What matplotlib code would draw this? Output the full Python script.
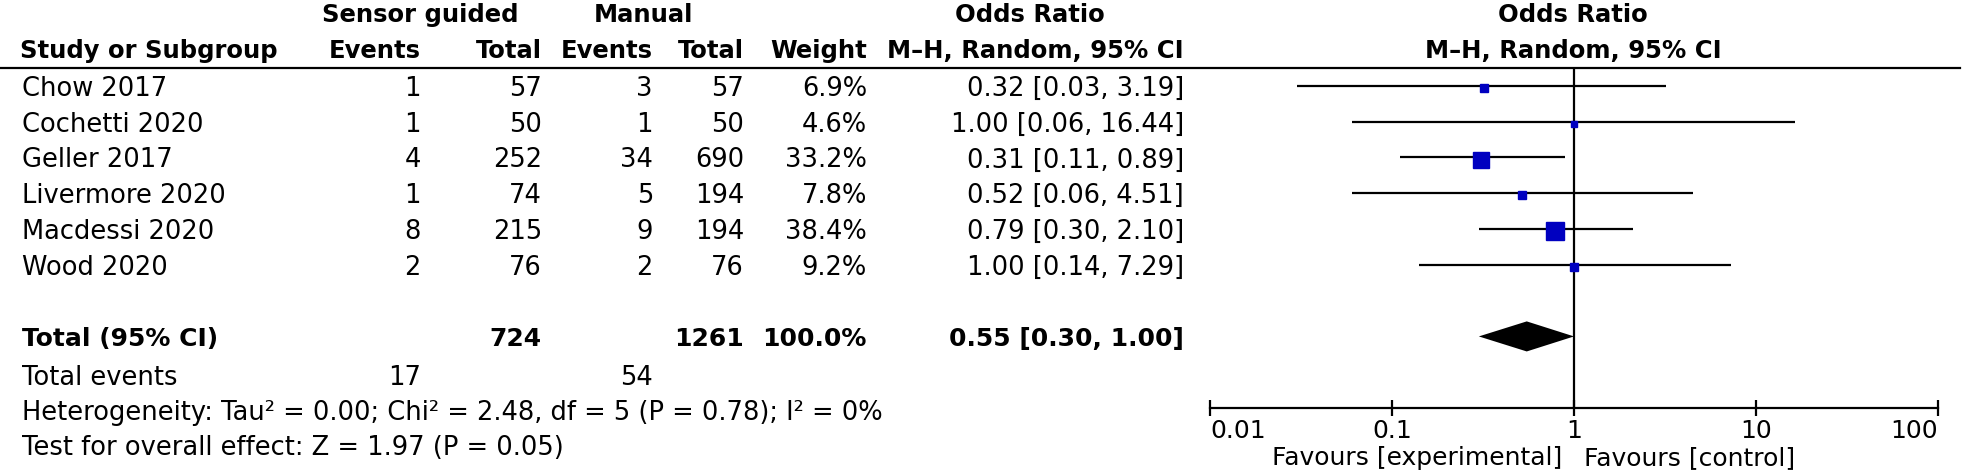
import matplotlib
matplotlib.use("Agg")
import matplotlib.pyplot as plt
import numpy as np

studies = ["Chow 2017", "Cochetti 2020", "Geller 2017", "Livermore 2020", "Macdessi 2020", "Wood 2020"]
sg_events = [1, 1, 4, 1, 8, 2]
sg_total = [57, 50, 252, 74, 215, 76]
man_events = [3, 1, 34, 5, 9, 2]
man_total = [57, 50, 690, 194, 194, 76]
weight = [6.9, 4.6, 33.2, 7.8, 38.4, 9.2]
odds = [0.32, 1.00, 0.31, 0.52, 0.79, 1.00]
ci_low = [0.03, 0.06, 0.11, 0.06, 0.30, 0.14]
ci_high = [3.19, 16.44, 0.89, 4.51, 2.10, 7.29]

tot_sg, tot_man = 724, 1261
tot_weight = 100.0
pooled, pooled_low, pooled_high = 0.55, 0.30, 1.00
ev_sg, ev_man = 17, 54
heterogeneity = "Heterogeneity: Tau\u00b2 = 0.00; Chi\u00b2 = 2.48, df = 5 (P = 0.78); I\u00b2 = 0%"
overall = "Test for overall effect: Z = 1.97 (P = 0.05)"
tick_vals = [0.01, 0.1, 1, 10, 100]
tick_labels = ["0.01", "0.1", "1", "10", "100"]

plt.rcParams['font.family'] = ['DejaVu Sans']
fs = 18.5      # body text
fsb = 17.5     # bold headers
W, H = 1965, 476
fig = plt.figure(figsize=(W / 100, H / 100), dpi=100)

# full-figure axes in pixel units for the table part
tab = fig.add_axes([0, 0, 1, 1])
tab.set_xlim(0, W)
tab.set_ylim(H, 0)
tab.axis("off")

top, bottom = 68, 408
row_h = (bottom - top) / 9.5
def row_y(i):
    return top + (i + 0.5) * row_h + 3

# header
tab.plot([0, 1960], [top, top], color="black", lw=1.6)
h1, h2 = 15, 51
bold = dict(fontsize=fsb, fontweight="bold", va="center")
tab.text(420, h1, "Sensor guided", ha="center", **bold)
tab.text(643, h1, "Manual", ha="center", **bold)
tab.text(1030, h1, "Odds Ratio", ha="center", **bold)
tab.text(1573, h1, "Odds Ratio", ha="center", **bold)
tab.text(20, h2, "Study or Subgroup", ha="left", **bold)
cols = [421, 542, 653, 744, 867, 1184]
for x, lab in zip(cols, ["Events", "Total", "Events", "Total", "Weight", "M\u2013H, Random, 95% CI"]):
    tab.text(x, h2, lab, ha="right", **bold)
tab.text(1573, h2, "M\u2013H, Random, 95% CI", ha="center", **bold)

norm = dict(fontsize=fs, va="center")
for i, name in enumerate(studies):
    y = row_y(i)
    tab.text(22, y, name, ha="left", **norm)
    vals = [str(sg_events[i]), str(sg_total[i]), str(man_events[i]), str(man_total[i]),
            f"{weight[i]:.1f}%", f"{odds[i]:.2f} [{ci_low[i]:.2f}, {ci_high[i]:.2f}]"]
    for x, v in zip(cols, vals):
        tab.text(x, y, v, ha="right", **norm)

yt = row_y(7)
bold_row = dict(fontsize=fsb + 0.5, fontweight="bold", va="center")
tab.text(22, yt, "Total (95% CI)", ha="left", **bold_row)
tab.text(cols[1], yt, str(tot_sg), ha="right", **bold_row)
tab.text(cols[3], yt, str(tot_man), ha="right", **bold_row)
tab.text(cols[4], yt, f"{tot_weight:.1f}%", ha="right", **bold_row)
tab.text(cols[5], yt, f"{pooled:.2f} [{pooled_low:.2f}, {pooled_high:.2f}]", ha="right", **bold_row)

tab.text(22, 378, "Total events", ha="left", **norm)
tab.text(cols[0], 378, str(ev_sg), ha="right", **norm)
tab.text(cols[2], 378, str(ev_man), ha="right", **norm)
tab.text(22, 413, heterogeneity, ha="left", **norm)
tab.text(22, 448, overall, ha="left", **norm)

tab.text(1562, 458, "Favours [experimental]", ha="right", fontsize=18, va="center")
tab.text(1584, 458, "Favours [control]", ha="left", fontsize=18, va="center")

# forest plot axes
x0, x1 = 1210, 1938
ax = fig.add_axes([x0 / W, (H - bottom) / H, (x1 - x0) / W, (bottom - top) / H])
ax.patch.set_alpha(0)
ax.set_xscale("log")
ax.set_xlim(0.01, 100)
ax.set_ylim(9, -0.5)
for s in ["top", "left", "right"]:
    ax.spines[s].set_visible(False)
ax.spines["bottom"].set_linewidth(1.6)
ax.set_yticks([])
ax.set_xticks(tick_vals)
ax.set_xticklabels(tick_labels, fontsize=18)
ax.minorticks_off()
ax.tick_params(axis="x", direction="inout", length=12, width=1.6, pad=2)
labs = ax.get_xticklabels()
labs[0].set_ha("left")
labs[-1].set_ha("right")

ax.axvline(1, color="black", lw=1.6)
ys = np.arange(len(studies))
ax.hlines(ys, ci_low, ci_high, color="black", lw=1.6)
sizes = 2.12 * np.sqrt(weight)
for y, o, s in zip(ys, odds, sizes):
    ax.plot(o, y + 0.06, marker="s", ms=s, color="#0000c0", mec="#0000c0", zorder=3)

dh = 0.42
ax.fill([pooled_low, pooled, pooled_high, pooled], [7, 7 - dh, 7, 7 + dh], color="black", lw=0)

fig.savefig("out.png", dpi=100)
